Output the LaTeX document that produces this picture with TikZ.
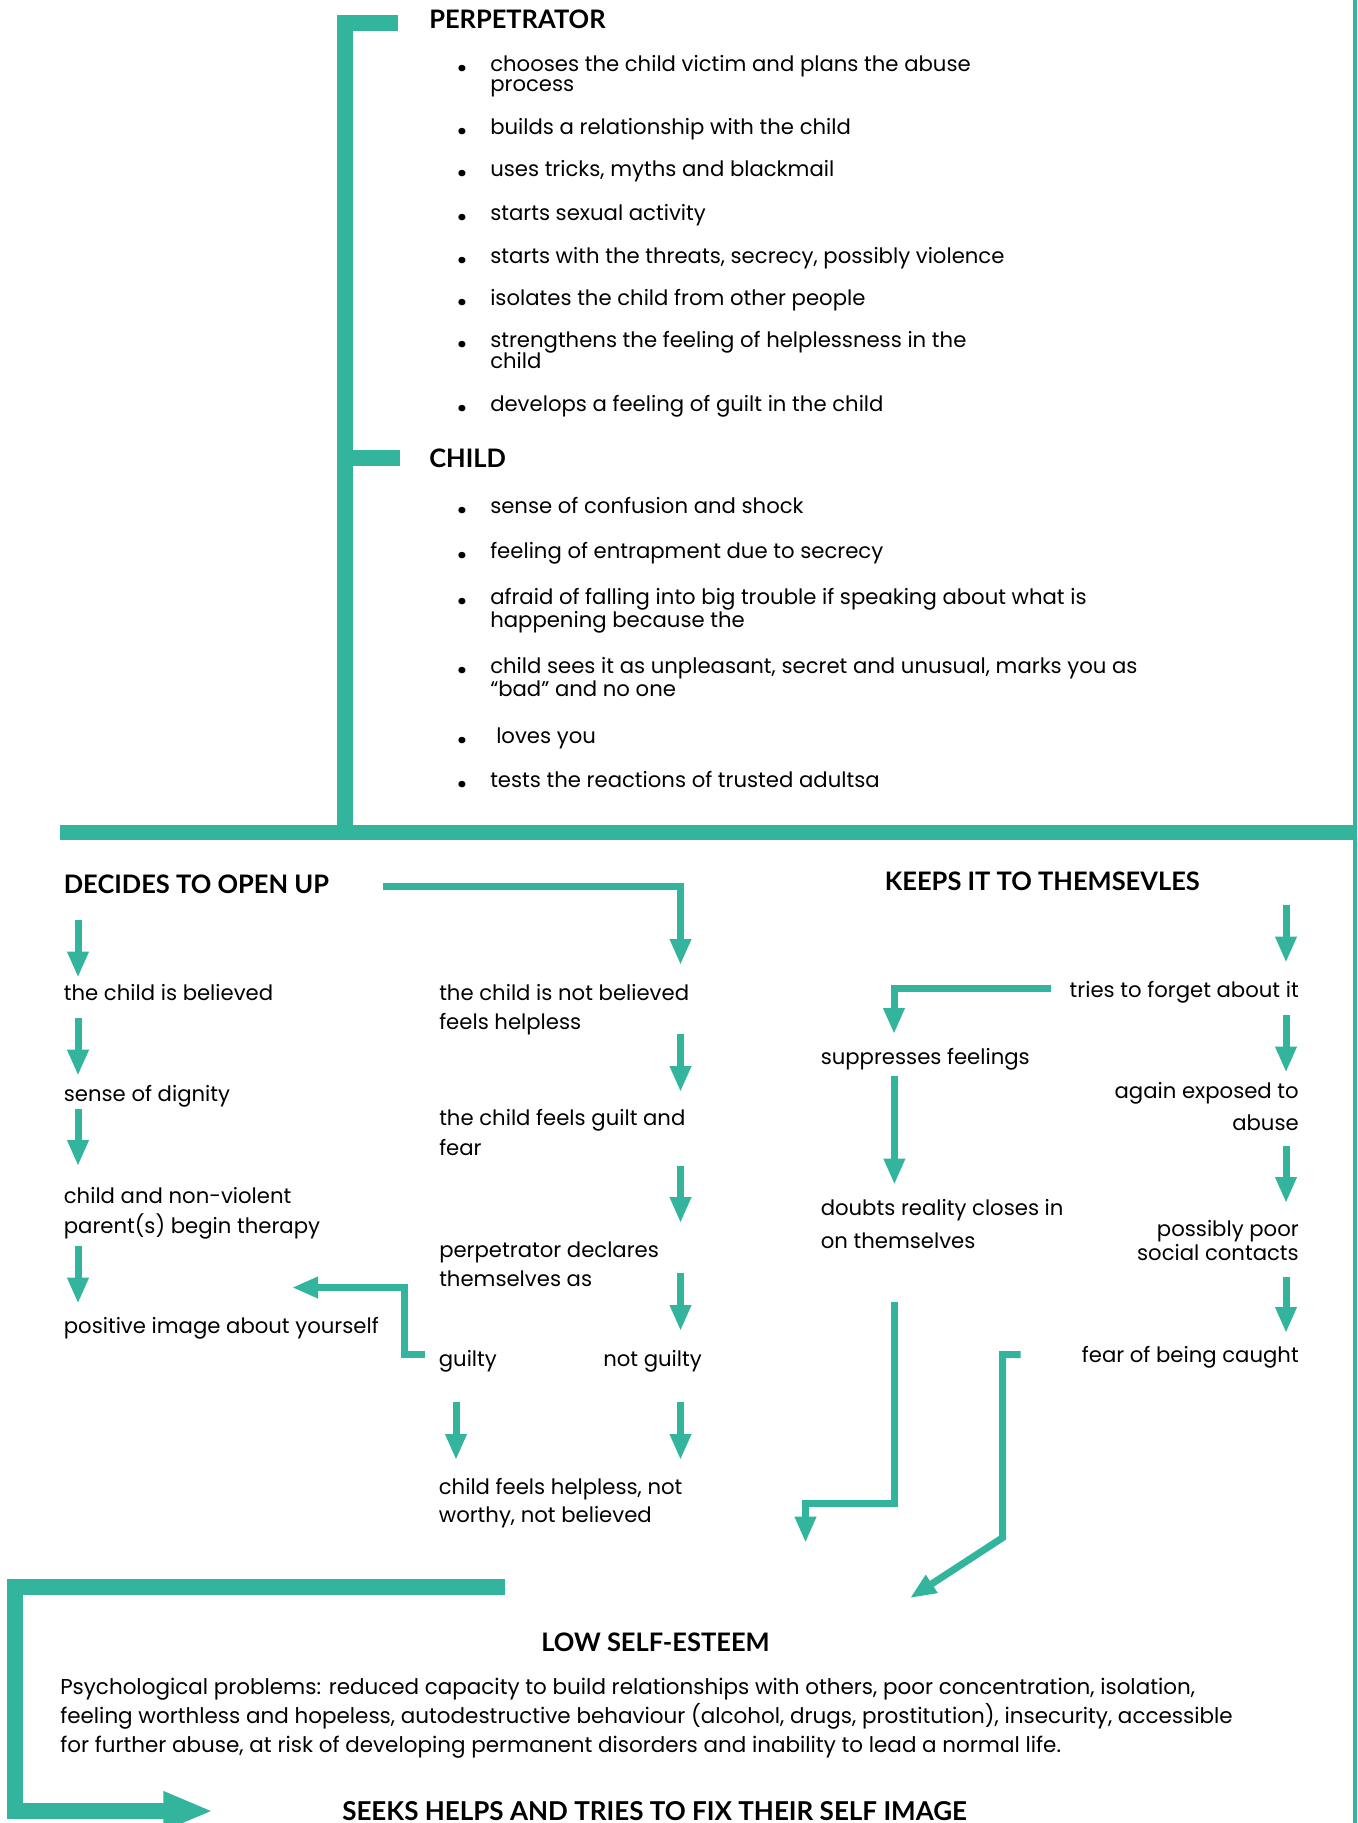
\documentclass[tikz,border=0pt]{standalone}
\usepackage{fontspec}
\setmainfont{Lato}
\newfontfamily\popp{Poppins}
\usetikzlibrary{arrows.meta}
\definecolor{tealbar}{HTML}{33B49C}
\newcommand\bodyfs[1]{\popp\fontsize{15.9pt}{#1}\lineskiplimit=-30pt\selectfont}
\newcommand\headfs{\fontsize{19.1pt}{22pt}\selectfont\bfseries}
\newcommand\bdot{{\fontsize{26pt}{26pt}\selectfont\bfseries .}}
\newcommand\bul{\llap{\bdot\hspace{17.2pt}}}
\begin{document}
\begin{tikzpicture}[x=0.75pt,y=-0.75pt,
  txt/.style={inner sep=0pt, anchor=base west, align=left, font=\bodyfs{#1}},
  txt/.default=21.5pt,
  txtr/.style={inner sep=0pt, anchor=base east, align=right, font=\bodyfs{#1}},
  txtr/.default=21.5pt,
  head/.style={inner sep=0pt, anchor=base west, font=\headfs},
  bar/.style={draw=tealbar, line width=12pt},
  thinbar/.style={draw=tealbar, line width=3pt},
  arr/.style={draw=tealbar, line width=5.25pt, -{Triangle[length=19.5pt,width=15pt]}},
  bigarr/.style={draw=tealbar, line width=12pt, -{Triangle[length=37.5pt,width=27pt]}},
]
\useasboundingbox (0,0) rectangle (1357,1823);
\clip (0,0) rectangle (1357,1823);

% ---------- top section ----------
\node[head] (perp) at (429,28.3) {PERPETRATOR};
\node[txt=15.4pt] (p1) at (490,91.7) {\bul chooses the child victim and plans the abuse\\process};
\node[txt] (p2) at (490,135) {\bul builds a relationship with the child};
\node[txt] (p3) at (490,176.7) {\bul uses tricks, myths and blackmail};
\node[txt] (p4) at (490,220) {\bul starts sexual activity};
\node[txt] (p5) at (490,263) {\bul starts with the threats, secrecy, possibly violence};
\node[txt] (p6) at (490,305) {\bul isolates the child from other people};
\node[txt=15.4pt] (p7) at (490,368) {\bul strengthens the feeling of helplessness in the\\child};
\node[txt] (p8) at (490,411.7) {\bul develops a feeling of guilt in the child};

\node[head] (child) at (429,467.7) {CHILD};
\node[txt] (c1) at (490,513) {\bul sense of confusion and shock};
\node[txt] (c2) at (490,558) {\bul feeling of entrapment due to secrecy};
\node[txt=17.25pt] (c3) at (490,627) {\bul afraid of falling into big trouble if speaking about what is\\happening because the};
\node[txt=17.25pt] (c4) at (490,696) {\bul child sees it as unpleasant, secret and unusual, marks you as\\“bad” and no one};
\node[txt] (c5) at (496,743) {\llap{\bdot\hspace{21.7pt}}loves you};
\node[txt] (c6) at (490,787) {\bul tests the reactions of trusted adultsa};

% bracket
\coordinate (brTop) at (398,23);
\coordinate (brCorner) at (345,23);
\coordinate (brBottom) at (345,832.5);
\coordinate (brChildA) at (345,458);
\coordinate (brChildB) at (400,458);
\draw[bar] (brTop) -- (brCorner) -- (brBottom);
\draw[bar] (brChildA) -- (brChildB);
\coordinate (hbarL) at (60,832.5);
\coordinate (hbarR) at (1357,832.5);
\draw[draw=tealbar, line width=11.25pt] (hbarL) -- (hbarR);
\coordinate (vlineT) at (1355,0);
\coordinate (vlineB) at (1355,1823);
\draw[thinbar] (vlineT) -- (vlineB);

% ---------- decides to open up ----------
\node[head] (dec) at (63.6,893.6) {DECIDES TO OPEN UP};
\node[txt] (l1) at (63.6,1000) {the child is believed};
\node[txt] (l2) at (63.6,1101.8) {sense of dignity};
\node[txt=22.5pt] (l3) at (63.6,1233) {child and non-violent\\parent(s) begin therapy};
\node[txt] (l4) at (63.6,1333) {positive image about yourself};

\coordinate (a1s) at (78,920);   \coordinate (a1e) at (78,977.5);
\coordinate (a2s) at (78,1018);  \coordinate (a2e) at (78,1075.7);
\coordinate (a3s) at (78,1109);  \coordinate (a3e) at (78,1166);
\coordinate (a4s) at (78,1246);  \coordinate (a4e) at (78,1303.6);
\draw[arr] (a1s) -- (a1e);
\draw[arr] (a2s) -- (a2e);
\draw[arr] (a3s) -- (a3e);
\draw[arr] (a4s) -- (a4e);

\node[txt=21.5pt] (m1) at (439,1029.6) {the child is not believed\\feels helpless};
\node[txt=22pt] (m2) at (439,1155) {the child feels guilt and\\fear};
\node[txt=22pt] (m3) at (439,1286.4) {perpetrator declares\\themselves as};
\node[txt] (g) at (438.6,1366.7) {guilty};
\node[txt] (ng) at (603,1366.7) {not guilty};
\node[txt=20.8pt] (m4) at (438.6,1522.7) {child feels helpless, not\\worthy, not believed};

\coordinate (decS) at (383,886);  \coordinate (decE) at (680.5,965);
\draw[arr] (decS) -| (decE);
\coordinate (b1s) at (680.5,1034); \coordinate (b1e) at (680.5,1092);
\coordinate (b2s) at (680.5,1166); \coordinate (b2e) at (680.5,1223);
\coordinate (b3s) at (680.5,1273); \coordinate (b3e) at (680.5,1331);
\coordinate (b4s) at (680.5,1402); \coordinate (b4e) at (680.5,1460);
\coordinate (b5s) at (456,1402);   \coordinate (b5e) at (456,1460);
\draw[arr] (b1s) -- (b1e);
\draw[arr] (b2s) -- (b2e);
\draw[arr] (b3s) -- (b3e);
\draw[arr] (b4s) -- (b4e);
\draw[arr] (b5s) -- (b5e);
\coordinate (gS) at (425,1354.5);
\coordinate (gC1) at (404,1354.5);
\coordinate (gC2) at (404,1287.5);
\coordinate (gE) at (292,1287.5);
\draw[arr] (gS) -- (gC1) -- (gC2) -- (gE);

% ---------- keeps it to themselves ----------
\node[head] (keeps) at (884.7,890) {KEEPS IT TO THEMSEVLES};
\node[txtr] (r1) at (1299,997) {tries to forget about it};
\node[txtr=23.6pt] (r2) at (1299,1130) {again exposed to\\abuse};
\node[txtr=18.3pt] (r3) at (1299,1260.4) {possibly poor\\social contacts};
\node[txtr] (r4) at (1299,1362.6) {fear of being caught};
\node[txt] (s1) at (820.5,1064) {suppresses feelings};
\node[txt=25.1pt] (s2) at (820.5,1248.5) {doubts reality closes in\\on themselves};

\coordinate (k1s) at (1286,905);    \coordinate (k1e) at (1286,962.6);
\coordinate (k2s) at (1286,1015);   \coordinate (k2e) at (1286,1072.5);
\coordinate (k3s) at (1286,1145.6); \coordinate (k3e) at (1286,1203);
\coordinate (k4s) at (1286,1276.5); \coordinate (k4e) at (1286,1333);
\draw[arr] (k1s) -- (k1e);
\draw[arr] (k2s) -- (k2e);
\draw[arr] (k3s) -- (k3e);
\draw[arr] (k4s) -- (k4e);
\coordinate (tS) at (1051,988.4); \coordinate (tE) at (894,1034);
\draw[arr] (tS) -| (tE);
\coordinate (sS) at (894.4,1076); \coordinate (sE) at (894.4,1184.6);
\draw[arr] (sS) -- (sE);
\coordinate (dS) at (894,1302);
\coordinate (dC) at (894,1503.3);
\coordinate (dE) at (805.5,1542.7);
\draw[arr] (dS) -- (dC) -| (dE);
\coordinate (fS) at (1020.6,1354.5);
\coordinate (fC1) at (1002.6,1354.5);
\coordinate (fC2) at (1002.6,1537.7);
\coordinate (fE) at (910,1598);
\draw[arr] (fS) -- (fC1) -- (fC2) -- (fE);

% ---------- bottom ----------
\node[head] (low) at (541,1651.7) {LOW SELF-ESTEEM};
\node[txt=21.75pt, font=\popp\fontsize{16.1pt}{21.75pt}\selectfont] (para) at (60,1752) {Psychological problems: reduced capacity to build relationships with others, poor concentration, isolation,\\feeling worthless and hopeless, autodestructive behaviour (alcohol, drugs, prostitution), insecurity, accessible\\for further abuse, at risk of developing permanent disorders and inability to lead a normal life.};
\node[head, font=\fontsize{19.5pt}{22pt}\selectfont\bfseries] (seeks) at (342,1820) {SEEKS HELPS AND TRIES TO FIX THEIR SELF IMAGE};

\coordinate (lbS) at (504.5,1587);
\coordinate (lbC1) at (15.3,1587);
\coordinate (lbC2) at (15.3,1811);
\coordinate (lbE) at (213.3,1811);
\draw[bigarr] (lbS) -- (lbC1) -- (lbC2) -- (lbE);
\end{tikzpicture}
\end{document}
